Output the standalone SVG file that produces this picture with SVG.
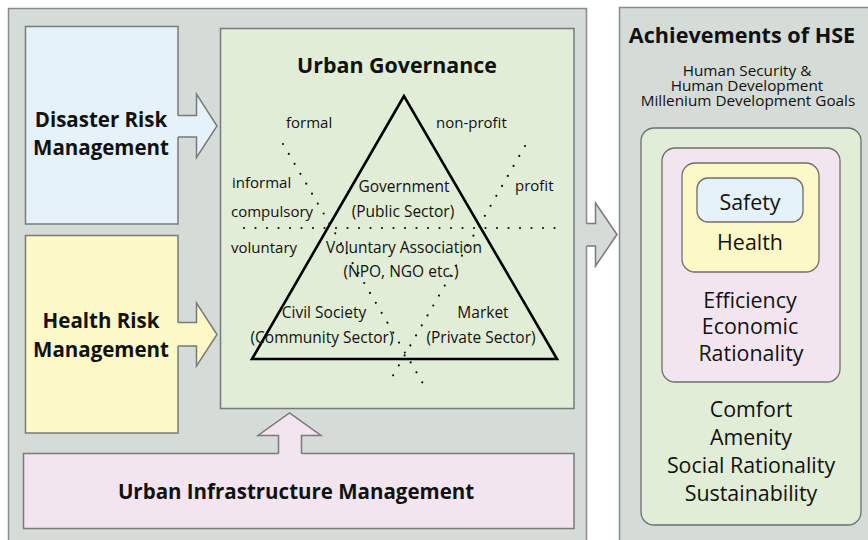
<svg xmlns="http://www.w3.org/2000/svg" width="868" height="540" viewBox="0 0 868 540">
<style>
  .panel{fill:#d5dbd6;stroke:#8a8a8a;stroke-width:1.5}
  .box{stroke:#7a7a7a;stroke-width:1.5}
  .rbox{stroke:#6e6e6e;stroke-width:1.3}
  .blue{fill:#e6f2f9}
  .yellow{fill:#fdf9c6}
  .green{fill:#e1edd6}
  .pink{fill:#f2e5f0}
  .grey{fill:#d5dbd6}
  .edge{fill:none;stroke:#7a7a7a;stroke-width:1.5;stroke-linejoin:miter}
  text{font-family:"Open Sans","Noto Sans","Liberation Sans",sans-serif;fill:#111;text-anchor:middle}
  .b{font-weight:bold}
  .h1{font-size:20.5px}
  .h2{font-size:20.5px}
  .t{font-size:15.5px}
  .s{font-size:15.3px}
  .r{font-size:21.4px}
  .lab{font-size:15px;text-anchor:start}
  .dot{fill:none;stroke:#111;stroke-width:2.2;stroke-linecap:round;stroke-dasharray:0 11.5}
  .tri{fill:none;stroke:#000;stroke-width:2.6;stroke-linejoin:miter}
</style>

<g id="panel-left">
  <rect class="panel" x="8.5" y="8.5" width="578" height="545"/>
</g>
<g id="panel-right">
  <rect class="panel" x="619.5" y="7.5" width="260" height="545"/>
</g>

<g id="disaster-risk">
  <rect class="box blue" x="25.5" y="26.5" width="152.5" height="197.5"/>
  <text class="b h1" x="101" y="127">Disaster Risk</text>
  <text class="b h1" x="101" y="155">Management</text>
</g>

<g id="health-risk">
  <rect class="box yellow" x="25.5" y="235.5" width="152.5" height="197.5"/>
  <text class="b h1" x="101" y="328">Health Risk</text>
  <text class="b h1" x="101" y="357">Management</text>
</g>

<g id="urban-infrastructure">
  <rect class="box pink" x="23.5" y="453.5" width="550.5" height="75"/>
  <text class="b h2" x="296" y="499">Urban Infrastructure Management</text>
</g>

<g id="urban-governance">
  <rect class="box green" x="220.5" y="28.5" width="353.5" height="380"/>
  <text class="b" style="font-size:21.4px" x="397" y="73">Urban Governance</text>
  <polygon class="tri" points="404,96 252,359 557,359"/>
  <line class="dot" x1="244" y1="228" x2="562" y2="228"/>
  <line class="dot" x1="283" y1="144" x2="425" y2="387"/>
  <line class="dot" x1="525" y1="146" x2="391" y2="379"/>
  <text class="lab" x="286" y="128">formal</text>
  <text class="lab" x="436" y="128">non-profit</text>
  <text class="lab" x="232" y="188">informal</text>
  <text class="lab" x="515" y="191">profit</text>
  <text class="lab" x="231" y="217">compulsory</text>
  <text class="lab" x="231" y="253">voluntary</text>
  <text class="t" x="404" y="192">Government</text>
  <text class="t" x="403" y="217">(Public Sector)</text>
  <text class="t" x="404" y="253">Voluntary Association</text>
  <text class="t" x="401" y="277">(NPO, NGO etc.)</text>
  <text class="t" x="324" y="318">Civil Society</text>
  <text class="t" x="322" y="343">(Community Sector)</text>
  <text class="t" x="483" y="318">Market</text>
  <text class="t" x="481" y="343">(Private Sector)</text>
</g>

<g id="achievements">
  <text class="b" style="font-size:21.6px" x="742" y="43">Achievements of HSE</text>
  <text class="s" x="747" y="76">Human Security &amp;</text>
  <text class="s" x="747" y="91">Human Development</text>
  <text class="s" x="748" y="106">Millenium Development Goals</text>
  <rect class="rbox green" x="641" y="128" width="220" height="397" rx="13"/>
  <rect class="rbox pink" x="662" y="148" width="178" height="234" rx="13"/>
  <rect class="rbox yellow" x="682" y="163" width="137" height="109" rx="13"/>
  <rect class="rbox blue" x="697" y="178" width="106" height="44" rx="11"/>
  <text class="r" x="750" y="210">Safety</text>
  <text class="r" x="750" y="250">Health</text>
  <text class="r" x="750" y="308">Efficiency</text>
  <text class="r" x="750" y="334">Economic</text>
  <text class="r" x="751" y="361">Rationality</text>
  <text class="r" x="751" y="417">Comfort</text>
  <text class="r" x="751" y="445">Amenity</text>
  <text class="r" x="751" y="473">Social Rationality</text>
  <text class="r" x="751" y="501">Sustainability</text>
</g>

<g id="connectors">
  <g id="arrow-disaster">
    <polygon class="blue" points="176,115.5 196.5,115.5 196.5,94 217,126 196.5,157.5 196.5,137 176,137"/>
    <polyline class="edge" points="178,115.5 196.5,115.5 196.5,94 217,126 196.5,157.5 196.5,137 178,137"/>
  </g>
  <g id="arrow-health">
    <polygon class="yellow" points="176,322.5 196.5,322.5 196.5,303 217,334.5 196.5,366 196.5,346 176,346"/>
    <polyline class="edge" points="178,322.5 196.5,322.5 196.5,303 217,334.5 196.5,366 196.5,346 178,346"/>
  </g>
  <g id="arrow-infrastructure">
    <polygon class="pink" points="278.5,455 278.5,435.5 258,435.5 289.5,413 321,435.5 301.5,435.5 301.5,455"/>
    <polyline class="edge" points="278.5,453.5 278.5,435.5 258,435.5 289.5,413 321,435.5 301.5,435.5 301.5,453.5"/>
  </g>
  <g id="arrow-governance-hse">
    <polygon class="grey" points="584,223.5 595.5,223.5 595.5,203 617,234.5 595.5,266 595.5,246 584,246"/>
    <polyline class="edge" points="586.5,223.5 595.5,223.5 595.5,203 617,234.5 595.5,266 595.5,246 586.5,246"/>
  </g>
</g>
</svg>
